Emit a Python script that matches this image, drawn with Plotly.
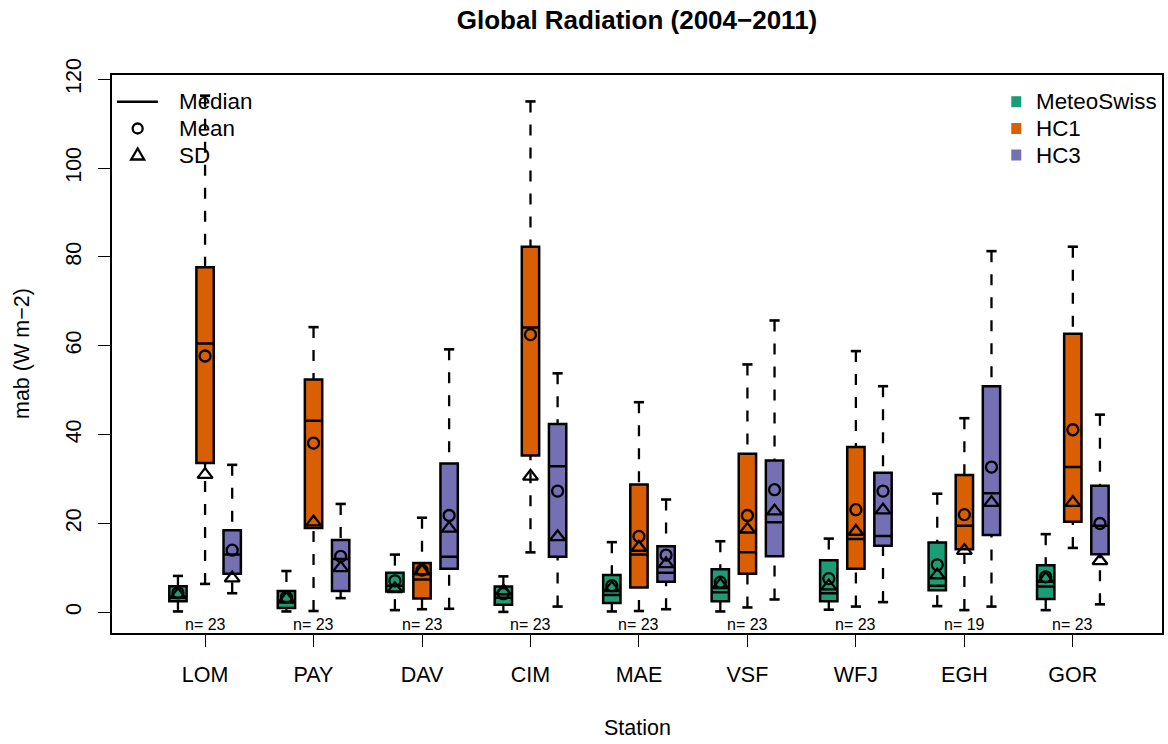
import plotly.graph_objects as go

# ---- data: boxplot statistics per station (W m-2) ----
stations = ["LOM", "PAY", "DAV", "CIM", "MAE", "VSF", "WFJ", "EGH", "GOR"]
n_obs = [23, 23, 23, 23, 23, 23, 23, 19, 23]

# MeteoSwiss
ms_low = [0.2, 0.2, 0.5, 0.1, 0.2, 0.2, 0.6, 1.4, 0.5]
ms_q1 = [2.5, 1.0, 4.7, 1.7, 2.1, 2.5, 2.5, 5.0, 3.0]
ms_med = [3.3, 2.2, 6.0, 3.3, 3.9, 4.5, 4.3, 6.0, 5.8]
ms_q3 = [5.9, 4.8, 8.9, 5.8, 8.4, 9.7, 11.7, 15.7, 10.6]
ms_high = [8.2, 9.3, 13.0, 8.1, 15.8, 16.0, 16.6, 26.7, 17.6]
ms_mean = [4.4, 3.4, 7.1, 4.2, 6.0, 6.8, 7.6, 10.7, 8.0]
ms_sd = [4.0, 3.1, 5.3, 4.8, 5.5, 6.2, 5.9, 8.4, 7.6]

# HC1
hc1_low = [6.4, 0.3, 0.7, 13.5, 0.3, 1.1, 1.3, 0.5, 14.5]
hc1_q1 = [33.6, 19.0, 3.1, 35.3, 5.6, 8.7, 9.8, 14.2, 20.4]
hc1_med = [60.5, 43.1, 7.4, 64.1, 13.0, 13.5, 16.5, 19.5, 32.7]
hc1_q3 = [77.7, 52.4, 11.1, 82.3, 28.8, 35.7, 37.2, 30.9, 62.7]
hc1_high = [116.3, 64.2, 21.3, 115.0, 47.3, 55.8, 58.8, 43.7, 82.3]
hc1_mean = [57.7, 38.1, 9.5, 62.5, 17.1, 21.8, 23.1, 22.0, 41.1]
hc1_sd = [31.0, 20.3, 9.3, 30.6, 14.6, 18.7, 18.2, 13.9, 24.7]

# HC3
hc3_low = [4.3, 3.2, 0.8, 1.3, 0.7, 2.9, 2.3, 1.3, 1.8]
hc3_q1 = [8.7, 4.8, 9.8, 12.5, 6.9, 12.6, 15.0, 17.4, 13.1]
hc3_med = [13.0, 12.0, 12.5, 32.9, 8.9, 20.3, 17.2, 26.8, 19.5]
hc3_q3 = [18.5, 16.3, 33.5, 42.4, 14.9, 34.2, 31.4, 50.9, 28.5]
hc3_high = [33.2, 24.4, 59.2, 53.8, 25.4, 65.7, 50.9, 81.3, 44.5]
hc3_mean = [14.0, 12.6, 21.8, 27.3, 12.9, 27.6, 27.3, 32.7, 20.0]
hc3_sd = [7.7, 10.0, 18.9, 17.0, 10.9, 22.8, 23.0, 24.7, 11.6]

series_names = ["MeteoSwiss", "HC1", "HC3"]
series_colors = ["#1B9E77", "#D95F02", "#7570B3"]
y_ticks = [0, 20, 40, 60, 80, 100, 120]

series = [
    (ms_low, ms_q1, ms_med, ms_q3, ms_high, ms_mean, ms_sd),
    (hc1_low, hc1_q1, hc1_med, hc1_q3, hc1_high, hc1_mean, hc1_sd),
    (hc3_low, hc3_q1, hc3_med, hc3_q3, hc3_high, hc3_mean, hc3_sd),
]

# ---- geometry ----
offsets = [-0.25, 0.0, 0.25]
box_width = 0.16
cap_half = 0.047
FONT = "Liberation Sans, Arial, Helvetica, sans-serif"
BASE = 21.5
KEY = 22.4

fig = go.Figure()

group_x = list(range(1, len(stations) + 1))

# boxes (no whiskers, those are drawn dashed below)
for (low, q1, med, q3, high, mean, sd), name, col, off in zip(series, series_names, series_colors, offsets):
    xs = [g + off for g in group_x]
    fig.add_trace(go.Box(
        x=xs, q1=q1, median=med, q3=q3, lowerfence=q1, upperfence=q3,
        width=box_width, whiskerwidth=0, boxpoints=False,
        fillcolor=col, line=dict(color="black", width=2.5),
        name=name, showlegend=False, hoverinfo="skip",
    ))

# whiskers: dashed, drawn from the whisker end toward the box
for (low, q1, med, q3, high, mean, sd), off in zip(series, offsets):
    wx, wy, cx, cy = [], [], [], []
    for g, lo, a, b, hi in zip(group_x, low, q1, q3, high):
        p = g + off
        wx += [p, p, None, p, p, None]
        wy += [hi, b, None, lo, a, None]
        cx += [p - cap_half, p + cap_half, None, p - cap_half, p + cap_half, None]
        cy += [hi, hi, None, lo, lo, None]
    fig.add_trace(go.Scatter(x=wx, y=wy, mode="lines",
                             line=dict(color="black", width=2.3, dash="11px,12px"),
                             showlegend=False, hoverinfo="skip"))
    fig.add_trace(go.Scatter(x=cx, y=cy, mode="lines",
                             line=dict(color="black", width=2.6),
                             showlegend=False, hoverinfo="skip"))

# mean (circle) and SD (triangle) markers
for (low, q1, med, q3, high, mean, sd), off in zip(series, offsets):
    xs = [g + off for g in group_x]
    fig.add_trace(go.Scatter(x=xs, y=mean, mode="markers",
                             marker=dict(symbol="circle-open", size=11, color="black",
                                         line=dict(width=2.3, color="black")),
                             showlegend=False, hoverinfo="skip"))
    fig.add_trace(go.Scatter(x=xs, y=sd, mode="markers",
                             marker=dict(symbol="triangle-up-open", size=13, color="black",
                                         line=dict(width=2.3, color="black")),
                             showlegend=False, hoverinfo="skip"))

# ---- layout ----
L, R, T, B = 112, 1164, 75, 633


def px_x(px):
    return (px - L) / (R - L)


def px_y(py):
    return (B - py) / (B - T)


annotations = []
shapes = []

# sample sizes under each group
for g, n in zip(group_x, n_obs):
    annotations.append(dict(x=g, xref="x", y=0, yref="paper", yanchor="middle",
                            yshift=9, text=f"n= {n}", showarrow=False,
                            font=dict(family=FONT, size=16, color="black")))

# left key: median / mean / SD
key_rows = [101.7, 128.5, 155.0]
shapes.append(dict(type="line", xref="paper", yref="paper",
                   x0=px_x(117), x1=px_x(158), y0=px_y(key_rows[0]), y1=px_y(key_rows[0]),
                   line=dict(color="black", width=2.5)))
shapes.append(dict(type="circle", xref="paper", yref="paper",
                   xsizemode="pixel", ysizemode="pixel",
                   xanchor=px_x(137.7), yanchor=px_y(key_rows[1]),
                   x0=-5, x1=5, y0=-5, y1=5, line=dict(color="black", width=2.3)))
shapes.append(dict(type="path", xref="paper", yref="paper",
                   xsizemode="pixel", ysizemode="pixel",
                   xanchor=px_x(137.7), yanchor=px_y(key_rows[2]),
                   path="M -6.5,-4.5 L 6.5,-4.5 L 0,6.5 Z",
                   line=dict(color="black", width=2.3)))
for txt, row in zip(["Median", "Mean", "SD"], key_rows):
    annotations.append(dict(x=px_x(177), xref="paper", xanchor="left",
                            y=px_y(row), yref="paper", yanchor="middle",
                            text=txt, showarrow=False,
                            font=dict(family=FONT, size=KEY, color="black")))

# right key: series colours
for name, col, row in zip(series_names, series_colors, key_rows):
    shapes.append(dict(type="rect", xref="paper", yref="paper",
                       xsizemode="pixel", ysizemode="pixel",
                       xanchor=px_x(1018), yanchor=px_y(row),
                       x0=-5, x1=5, y0=-5.5, y1=5.5,
                       fillcolor=col, line=dict(width=0)))
    annotations.append(dict(x=px_x(1036), xref="paper", xanchor="left",
                            y=px_y(row), yref="paper", yanchor="middle",
                            text=name, showarrow=False,
                            font=dict(family=FONT, size=KEY, color="black")))

# axis titles
annotations.append(dict(x=0.5, xref="paper", y=0, yref="paper", yanchor="middle",
                        yshift=-(728 - B), text="Station", showarrow=False,
                        font=dict(family=FONT, size=BASE, color="black")))
annotations.append(dict(x=0, xref="paper", xanchor="center", xshift=-(L - 22),
                        y=0.5, yref="paper", yanchor="middle", textangle=-90,
                        text="mab (W m\u22122)", showarrow=False,
                        font=dict(family=FONT, size=BASE, color="black")))

fig.update_layout(
    width=1168, height=744,
    margin=dict(l=L, r=1168 - R, t=T, b=744 - B, pad=0),
    paper_bgcolor="white", plot_bgcolor="white",
    boxmode="overlay",
    showlegend=False,
    title=dict(text="<b>Global Radiation (2004\u22122011)</b>",
               x=0.5, xref="paper", xanchor="center",
               y=1 - 20 / 744, yref="container", yanchor="middle",
               font=dict(family=FONT, size=26, color="black")),
    font=dict(family=FONT, size=BASE, color="black"),
    annotations=annotations,
    shapes=shapes,
)

fig.update_xaxes(
    range=[0.142, 9.822], tickvals=group_x, ticktext=stations,
    showgrid=False, zeroline=False,
    showline=True, mirror=True, linecolor="black", linewidth=2,
    ticks="outside", ticklen=12, tickwidth=1, tickcolor="black",
    ticklabelstandoff=9,
    tickfont=dict(family=FONT, size=BASE, color="black"),
)
fig.update_yaxes(
    range=[-4.65, 120.95], tickvals=y_ticks, ticktext=[str(v) for v in y_ticks],
    tickangle=-90,
    showgrid=False, zeroline=False,
    showline=True, mirror=True, linecolor="black", linewidth=2,
    ticks="outside", ticklen=12, tickwidth=1, tickcolor="black",
    ticklabelstandoff=8,
    tickfont=dict(family=FONT, size=BASE, color="black"),
)

fig.write_html("out.html")
